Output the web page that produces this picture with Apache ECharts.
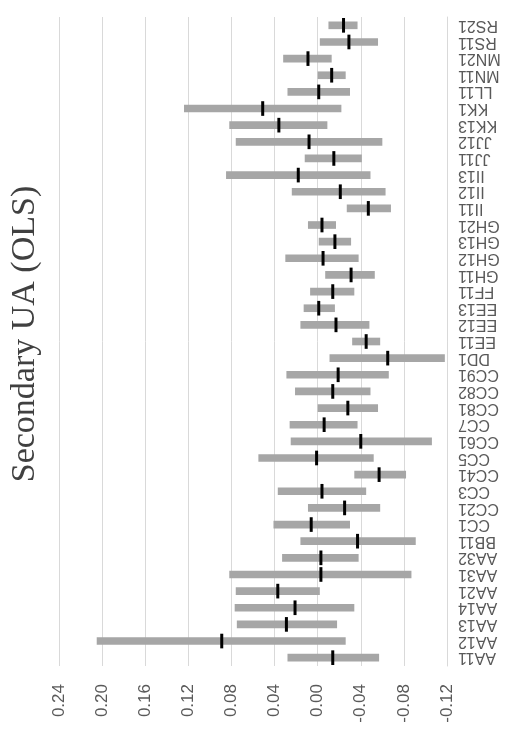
<!DOCTYPE html>
<html>
<head>
<meta charset="utf-8">
<script src="https://cdn.jsdelivr.net/npm/echarts@6/dist/echarts.min.js"></script>
<style>
  html, body { margin: 0; padding: 0; background: #fff; }
  #chart { width: 524px; height: 742px; }
</style>
</head>
<body>
<div id="chart"></div>
<script>
// Category codes, bottom to top
const categories = ['AA11','AA12','AA13','AA14','AA21','AA31','AA32','BB11','CC1','CC21','CC3','CC41','CC5','CC61','CC7','CC81','CC82','CC91','DD1','EE11','EE12','EE13','FF11','GH11','GH12','GH13','GH21','II11','II12','II13','JJ11','JJ12','KK13','KK1','LL11','MN11','MN21','RS11','RS21'];

// Confidence interval bounds and point estimates
const lower = [-0.057,-0.026,-0.018,-0.034,-0.002,-0.087,-0.038,-0.091,-0.030,-0.058,-0.045,-0.082,-0.052,-0.106,-0.037,-0.056,-0.049,-0.066,-0.118,-0.058,-0.048,-0.016,-0.034,-0.053,-0.038,-0.031,-0.017,-0.068,-0.063,-0.049,-0.041,-0.060,-0.009,-0.022,-0.030,-0.026,-0.013,-0.056,-0.037];
const upper = [0.028,0.205,0.075,0.077,0.076,0.082,0.033,0.016,0.041,0.009,0.037,-0.034,0.055,0.025,0.026,0.000,0.021,0.029,-0.011,-0.032,0.016,0.013,0.007,-0.007,0.030,-0.001,0.009,-0.027,0.024,0.085,0.012,0.076,0.082,0.124,0.028,0.000,0.032,-0.002,-0.010];
const estimate = [-0.014,0.089,0.029,0.021,0.037,-0.003,-0.003,-0.037,0.006,-0.025,-0.004,-0.057,0.001,-0.040,-0.006,-0.028,-0.014,-0.019,-0.065,-0.045,-0.017,-0.001,-0.014,-0.031,-0.005,-0.016,-0.004,-0.047,-0.021,0.018,-0.015,0.008,0.036,0.051,-0.001,-0.013,0.009,-0.029,-0.024];

// Value axis range
const valueMin = -0.12;
const valueMax = 0.24;
const valueStep = 0.04;

const rows = categories.map((c, i) => [i, lower[i], upper[i], estimate[i]]);

const chart = echarts.init(document.getElementById('chart'));

function renderInterval(params, api) {
  const i = api.value(0);
  const lo = api.coord([api.value(1), i]);
  const hi = api.coord([api.value(2), i]);
  const pt = api.coord([api.value(3), i]);
  const band = api.size([0, 1])[1];
  const barH = band * 0.46;
  const tickH = band * 0.88;
  return {
    type: 'group',
    children: [
      {
        type: 'rect',
        shape: { x: Math.min(lo[0], hi[0]), y: lo[1] - barH / 2, width: Math.abs(hi[0] - lo[0]), height: barH },
        style: { fill: '#a6a6a6' }
      },
      {
        type: 'rect',
        shape: { x: pt[0] - 1.5, y: pt[1] - tickH / 2, width: 3, height: tickH },
        style: { fill: '#000000' }
      }
    ]
  };
}

chart.setOption({
  animation: false,
  backgroundColor: '#ffffff',
  grid: { left: 59, right: 77, top: 17, bottom: 76 },
  xAxis: {
    type: 'value',
    inverse: true,
    min: valueMin,
    max: valueMax,
    interval: valueStep,
    position: 'bottom',
    axisLine: { show: false },
    axisTick: { show: false },
    splitLine: { show: true, lineStyle: { color: '#d9d9d9', width: 1 } },
    axisLabel: {
      rotate: 90,
      margin: 18,
      color: '#595959',
      fontSize: 17,
      fontFamily: '"Liberation Sans", Arial, sans-serif',
      formatter: v => v.toFixed(2)
    }
  },
  yAxis: {
    type: 'category',
    data: categories,
    position: 'right',
    axisLine: { show: true, onZero: false, lineStyle: { color: '#d9d9d9', width: 1 } },
    axisTick: { show: false },
    splitLine: { show: false },
    axisLabel: {
      rotate: 180,
      margin: 11,
      interval: 0,
      color: '#595959',
      fontSize: 16,
      fontFamily: '"Liberation Sans", Arial, sans-serif'
    }
  },
  graphic: [
    {
      type: 'text',
      x: 25,
      y: 334,
      rotation: Math.PI / 2,
      style: {
        text: 'Secondary UA (OLS)',
        font: '34px "Liberation Serif", "DejaVu Serif", serif',
        fill: '#404040',
        align: 'center',
        verticalAlign: 'middle'
      }
    }
  ],
  series: [
    {
      type: 'custom',
      renderItem: renderInterval,
      encode: { x: [1, 2, 3], y: 0 },
      data: rows
    }
  ]
});
</script>
</body>
</html>
